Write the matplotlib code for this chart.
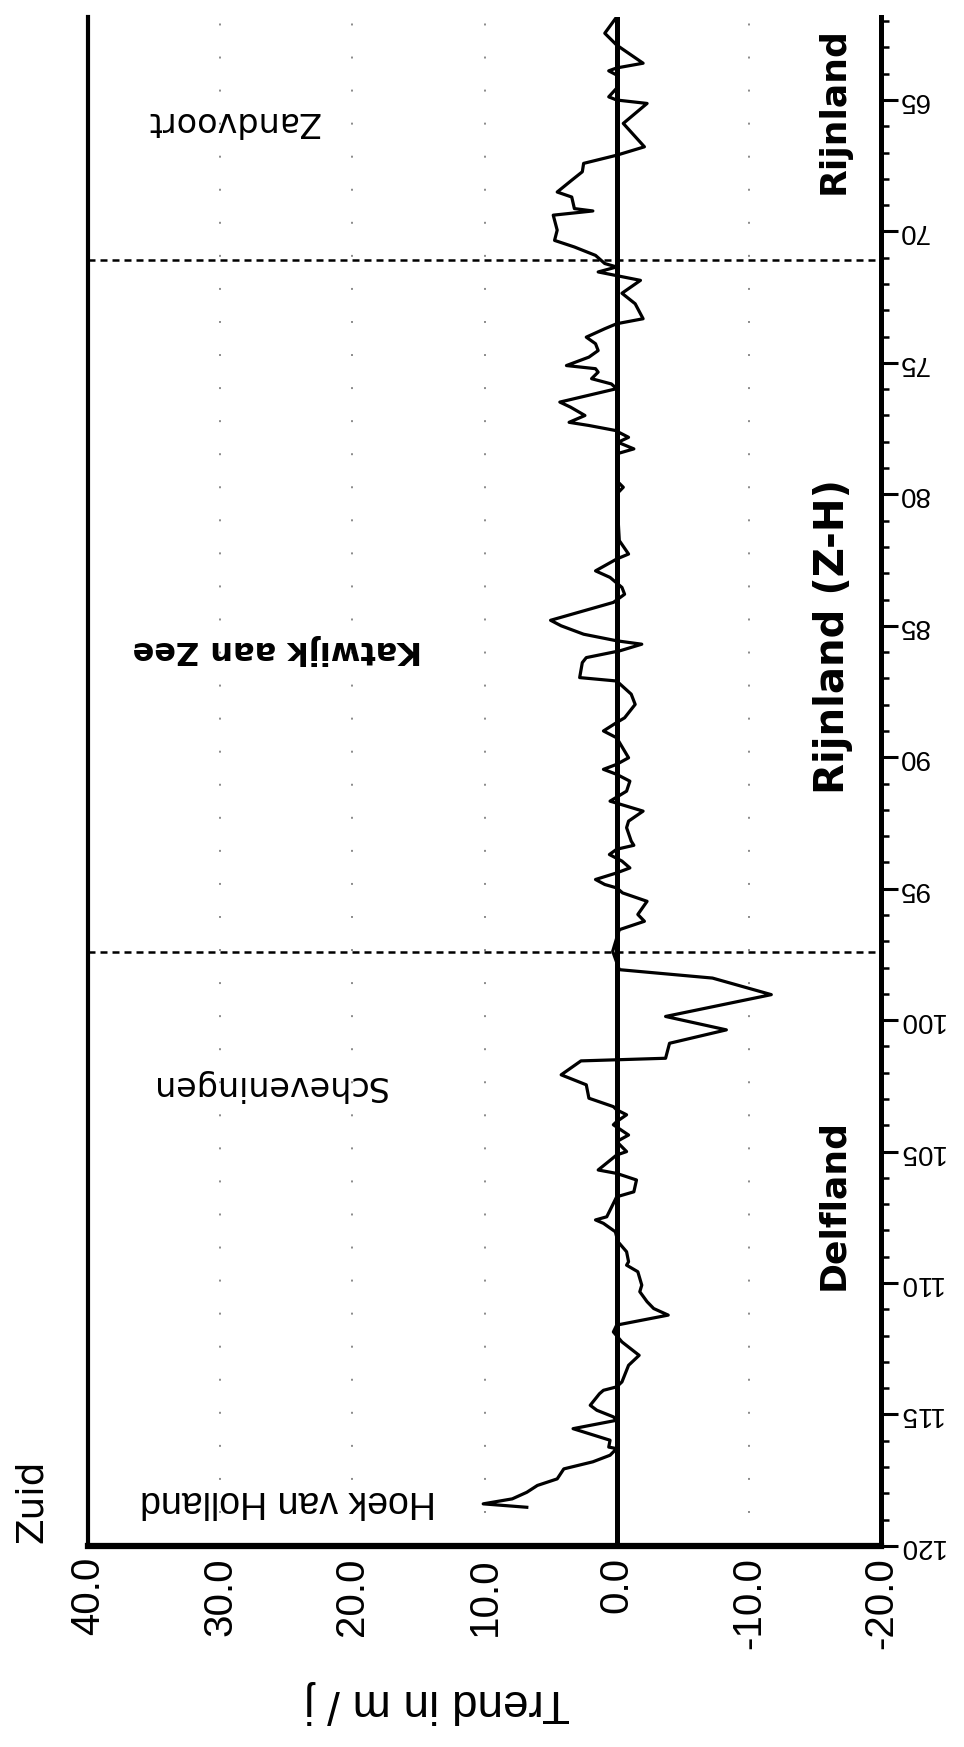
import matplotlib
matplotlib.use("Agg")
import matplotlib.pyplot as plt
from matplotlib.ticker import MultipleLocator, FixedLocator, FuncFormatter

# Coastal kilometre (Rijksstrandpalen) along the Holland coast, south -> north
km = [61.84, 62.46, 62.91, 63.60, 63.78, 63.89, 64.05, 64.55, 64.88, 65.00,
      65.13, 65.89, 66.78, 67.10, 67.41, 67.73, 68.05, 68.50, 68.69, 69.13,
      69.22, 69.38, 69.95, 70.34, 70.59, 70.91, 71.22, 71.35, 71.54, 71.86,
      72.35, 72.75, 73.32, 73.51, 73.70, 74.02, 74.27, 74.53, 74.78, 75.10,
      75.22, 75.35, 75.60, 75.80, 75.98, 76.49, 76.68, 77.00, 77.26, 77.38,
      77.57, 77.83, 78.02, 78.27, 78.46, 79.48, 79.73, 79.99, 81.76, 82.27,
      82.46, 82.91, 83.16, 83.54, 83.80, 84.11, 84.79, 85.00, 85.32, 85.57,
      85.70, 85.95, 86.21, 86.40, 86.97, 87.10, 87.60, 87.99, 88.50, 88.68,
      89.00, 89.26, 90.02, 90.27, 90.46, 90.65, 90.91, 91.29, 91.67, 92.05,
      92.43, 92.68, 93.19, 93.35, 93.50, 93.70, 93.95, 94.21, 94.40, 94.65,
      94.84, 94.97, 95.16, 95.48, 95.98, 96.24, 96.56, 96.88, 97.38, 98.08,
      98.40, 99.03, 99.86, 100.37, 100.88, 101.45, 101.55, 102.08, 102.46, 102.97,
      103.29, 103.41, 103.60, 103.86, 103.98, 104.37, 104.62, 105.00, 105.13, 105.70,
      105.83, 106.08, 106.53, 106.72, 107.48, 107.60, 107.73, 108.05, 108.43, 108.81,
      109.19, 109.32, 109.57, 110.08, 110.33, 110.71, 110.97, 111.22, 111.60, 111.86,
      112.24, 112.75, 113.13, 113.76, 113.95, 114.08, 114.21, 114.65, 114.84, 115.09,
      115.22, 115.54, 115.98, 116.24, 116.30, 116.55, 116.80, 117.07, 117.45, 117.70,
      117.96, 118.21, 118.40, 118.53]

# Coastline trend in m per year
trend = [0.0, 0.9, 0.0, -2.0, 0.0, 0.6, 0.0, 0.0, 0.6, 0.0,
         -2.3, -0.5, -2.1, 0.0, 2.5, 2.6, 3.4, 4.5, 3.4, 3.2,
         1.8, 4.8, 4.5, 4.7, 3.2, 1.6, 0.9, 0.0, 1.4, -1.8,
         -0.4, -1.4, -2.0, 0.0, 0.9, 2.3, 1.6, 1.4, 2.1, 3.8,
         1.6, 1.4, 1.9, 0.4, 0.0, 4.3, 3.5, 2.4, 3.6, 2.1,
         0.1, -0.9, -0.1, -1.3, 0.0, 0.0, -0.5, 0.0, -0.2, -0.9,
         0.0, 1.6, 0.5, -0.4, -0.6, 0.25, 5.0, 4.2, 2.5, 0.0,
         -1.9, -0.25, 2.3, 2.6, 2.8, 0.0, -1.1, -1.4, -0.6, 0.0,
         1.0, 0.0, -0.9, 0.0, 1.0, 0.0, -1.0, -0.75, 0.5, -2.0,
         -0.9, -0.75, -1.1, -1.3, 0.0, 0.55, -0.4, -1.0, 0.0, 1.6,
         0.9, 0.0, -0.45, -2.3, -1.6, -2.1, -0.2, 0.0, 0.3, -0.2,
         -7.25, -11.7, -3.7, -8.3, -4.0, -3.7, 2.7, 4.2, 2.3, 2.1,
         0.25, 0.0, -0.75, 0.0, 0.25, -0.9, 0.0, -0.75, 0.0, 1.4,
         0.0, -1.5, -1.3, 0.0, 0.75, 1.6, 1.0, 0.1, -0.1, -0.75,
         -0.9, -0.75, -1.6, -1.9, -1.75, -2.3, -2.8, -3.9, 0.0, 0.25,
         -0.4, -1.7, -0.9, -0.4, 0.0, 1.0, 1.3, 2.0, 1.5, 0.25,
         0.0, 3.3, 0.5, 0.6, 0.0, 0.5, 1.8, 4.0, 4.5, 6.0,
         6.8, 7.9, 10.1, 6.8]

trend_ticks = [40, 30, 20, 10, 0, -10, -20]
grid_trends = [30, 20, 10, -10]
km_major = list(range(65, 121, 5))
boundaries_km = [71.1, 97.4]

places = ["Zandvoort", "Katwijk aan Zee", "Scheveningen", "Hoek van Holland"]
place_trend = [29.0, 25.7, 26.4, 24.9]
place_km = [65.8, 85.9, 102.5, 118.3]

regions = ["Rijnland", "Rijnland (Z-H)", "Delfland"]
region_km = [65.4, 85.4, 107.0]
region_size = [26, 29, 26]

NARROW = ["Liberation Sans Narrow", "Liberation Sans", "DejaVu Sans"]
ARIAL = ["Liberation Sans", "DejaVu Sans"]

fig = plt.figure(figsize=(9.64, 17.47), dpi=100)
ax = fig.add_axes([0.0913, 0.1151, 0.8226, 0.8752])

ax.set_xlim(40, -20)
ax.set_ylim(120, 61.84)

# dotted grid
for g in grid_trends:
    ax.axvline(g, color="#8a8a8a", lw=1.4, linestyle=(0, (1, 16)), zorder=1)

# region boundaries
for b in boundaries_km:
    ax.axhline(b, color="black", lw=1.8, linestyle=(0, (2.8, 2.0)), zorder=2)

# zero line
ax.axvline(0, color="black", lw=3.6, zorder=3)

# trend curve
ax.plot(trend, km, color="black", lw=2.3, solid_joinstyle="round", zorder=4)

# spines
ax.spines["top"].set_visible(False)
ax.spines["left"].set_linewidth(3.0)
ax.spines["bottom"].set_linewidth(4.5)
ax.spines["right"].set_linewidth(3.6)

# km axis on the right
ax.yaxis.tick_right()
ax.yaxis.set_major_locator(FixedLocator(km_major))
ax.yaxis.set_minor_locator(MultipleLocator(1))
ax.tick_params(axis="y", which="major", direction="out", length=12, width=2.2,
               pad=0, labelsize=20)
ax.tick_params(axis="y", which="minor", direction="out", length=6, width=1.8)
for lab in ax.get_yticklabels():
    lab.set_rotation(180)
    lab.set_fontfamily(NARROW)
    lab.set_va("center")

# trend axis at the bottom
ax.xaxis.set_major_locator(FixedLocator(trend_ticks))
ax.xaxis.set_major_formatter(FuncFormatter(lambda v, p: f"{v:.1f}"))
ax.tick_params(axis="x", length=0, pad=8, labelsize=29)
for lab in ax.get_xticklabels():
    lab.set_rotation(90)
    lab.set_fontfamily(NARROW)

fig.text(437 / 964, 1 - 1702 / 1747, "Trend in m / j", rotation=180,
         ha="center", va="center", fontsize=33, family=ARIAL)

fig.text(32 / 964, 1 - 1543 / 1747, "Zuid", rotation=90, rotation_mode="anchor",
         ha="left", va="center", fontsize=27, family=["DejaVu Sans"])

# place names (upside down)
styles = [dict(fontsize=24, family=["DejaVu Sans"]),
          dict(fontsize=23, family=["DejaVu Sans"], fontweight="bold"),
          dict(fontsize=24, family=["DejaVu Sans"]),
          dict(fontsize=27, family=ARIAL)]
for name, t, k, st in zip(places, place_trend, place_km, styles):
    ax.text(t, k, name, rotation=180, ha="center", va="center", **st)

# water board regions
for name, k, s in zip(regions, region_km, region_size):
    ax.text(-16.4, k, name, rotation=90, ha="center", va="center",
            fontsize=s, fontweight="bold", family=["DejaVu Sans"])

fig.savefig("out.png", dpi=100)
